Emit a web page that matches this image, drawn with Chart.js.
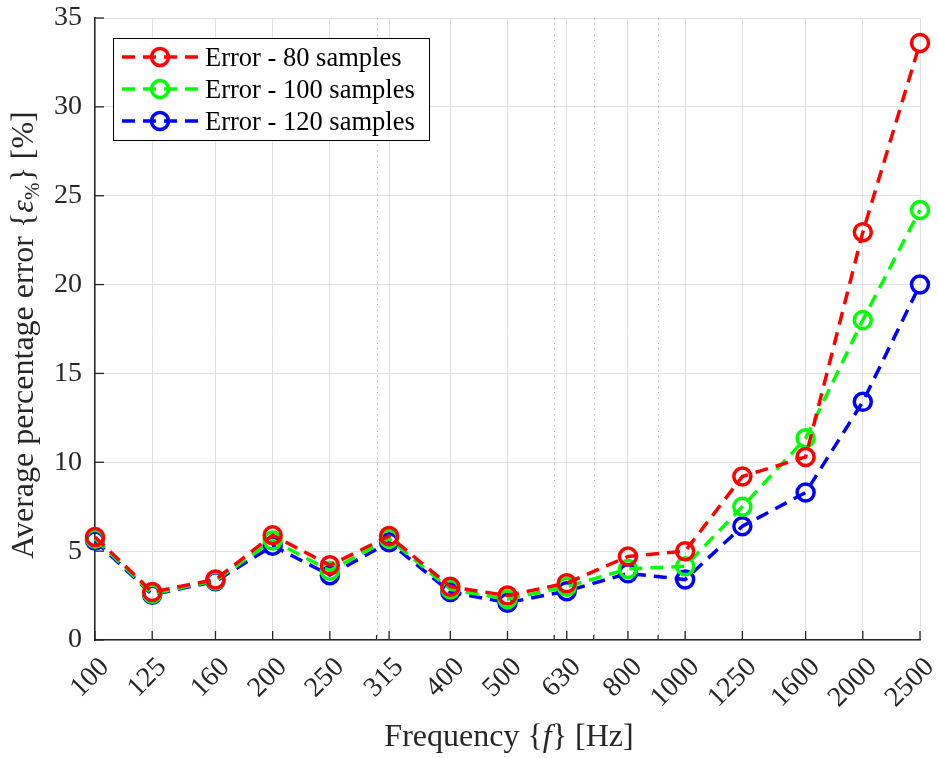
<!DOCTYPE html>
<html>
<head>
<meta charset="utf-8">
<script src="https://cdn.jsdelivr.net/npm/chart.js@4.4.1/dist/chart.umd.min.js"></script>
<style>
  html, body { margin: 0; padding: 0; background: #fff; }
  #wrap { width: 937px; height: 758px; }
</style>
</head>
<body>
<div id="wrap"><canvas id="errChart"></canvas></div>
<script>
const freqs = [100, 125, 160, 200, 250, 315, 400, 500, 630, 800, 1000, 1250, 1600, 2000, 2500];
const minorFreqs = [300, 600, 700, 900];
const yTicks = [0, 5, 10, 15, 20, 25, 30, 35];

const err80  = [5.8, 2.7, 3.4, 5.9, 4.2, 5.85, 3.0, 2.5, 3.2, 4.7, 5.0, 9.2, 10.3, 22.95, 33.6];
const err100 = [5.7, 2.6, 3.35, 5.6, 3.9, 5.7, 2.85, 2.3, 3.0, 4.0, 4.15, 7.5, 11.35, 18.0, 24.2];
const err120 = [5.6, 2.55, 3.3, 5.3, 3.65, 5.5, 2.7, 2.1, 2.75, 3.75, 3.4, 6.4, 8.3, 13.4, 20.0];

const seriesLabels = ['Error - 80 samples', 'Error - 100 samples', 'Error - 120 samples'];
const seriesColors = ['#ff0000', '#00ff00', '#0000ff'];

const FONT = '"Liberation Serif", "DejaVu Serif", serif';
const AXIS_COLOR = '#262626';
const GRID_COLOR = '#e1e1e1';

function toPoints(vals) {
    return freqs.map((f, i) => ({ x: f, y: vals[i] }));
}

// inside tick marks, dotted minor grid, slanted x labels, axis titles and legend box
const decorations = {
    id: 'decorations',
    beforeDatasetsDraw(chart) {
        const ctx = chart.ctx;
        const xs = chart.scales.x, ys = chart.scales.y;
        const area = chart.chartArea;
        ctx.save();
        ctx.strokeStyle = '#bdbdbd';
        ctx.lineWidth = 1;
        ctx.setLineDash([1.5, 4]);
        minorFreqs.forEach(f => {
            const px = Math.round(xs.getPixelForValue(f)) + 0.5;
            ctx.beginPath();
            ctx.moveTo(px, area.top);
            ctx.lineTo(px, area.bottom);
            ctx.stroke();
        });
        ctx.setLineDash([]);
        ctx.strokeStyle = AXIS_COLOR;
        ctx.lineWidth = 1.3;
        freqs.forEach(f => {
            const px = xs.getPixelForValue(f);
            ctx.beginPath();
            ctx.moveTo(px, area.bottom);
            ctx.lineTo(px, area.bottom - 9);
            ctx.stroke();
        });
        minorFreqs.forEach(f => {
            const px = xs.getPixelForValue(f);
            ctx.beginPath();
            ctx.moveTo(px, area.bottom);
            ctx.lineTo(px, area.bottom - 5);
            ctx.stroke();
        });
        yTicks.forEach(v => {
            const py = ys.getPixelForValue(v);
            ctx.beginPath();
            ctx.moveTo(area.left, py);
            ctx.lineTo(area.left + 9, py);
            ctx.stroke();
        });
        ctx.restore();
    },
    afterDraw(chart) {
        const ctx = chart.ctx;
        const xs = chart.scales.x;
        const area = chart.chartArea;
        ctx.save();
        ctx.fillStyle = AXIS_COLOR;

        // frequency labels at 45 degrees
        ctx.font = '28px ' + FONT;
        ctx.textAlign = 'right';
        ctx.textBaseline = 'middle';
        freqs.forEach(f => {
            const px = xs.getPixelForValue(f);
            ctx.save();
            ctx.translate(px + 10, area.bottom + 23);
            ctx.rotate(-Math.PI / 4);
            ctx.fillText(String(f), 0, 0);
            ctx.restore();
        });

        ctx.textBaseline = 'alphabetic';
        // x axis title: Frequency {f} [Hz]
        const xParts = [
            { t: 'Frequency {', f: '32px ' + FONT },
            { t: 'f', f: 'italic 32px ' + FONT },
            { t: '} [Hz]', f: '32px ' + FONT }
        ];
        drawParts(ctx, xParts, 509, 746);

        // y axis title, rotated
        ctx.save();
        ctx.translate(33, 335);
        ctx.rotate(-Math.PI / 2);
        const yParts = [
            { t: 'Average percentage error {', f: '32px ' + FONT },
            { t: 'ε', f: 'italic 32px ' + FONT },
            { t: '%', f: '21px ' + FONT, dy: 6 },
            { t: '} [%]', f: '32px ' + FONT }
        ];
        drawParts(ctx, yParts, 0, 0);
        ctx.restore();

        // legend
        const lx = 113, ly = 38, lw = 316, lh = 102;
        ctx.fillStyle = '#fff';
        ctx.fillRect(lx, ly, lw, lh);
        ctx.strokeStyle = '#000';
        ctx.lineWidth = 1;
        ctx.strokeRect(lx + 0.5, ly + 0.5, lw, lh);
        chart.data.datasets.forEach((ds, i) => {
            const cy = ly + 19 + i * 32;
            ctx.strokeStyle = ds.borderColor;
            ctx.lineWidth = ds.borderWidth;
            ctx.setLineDash(ds.borderDash);
            ctx.beginPath();
            ctx.moveTo(122, cy);
            ctx.lineTo(199, cy);
            ctx.stroke();
            ctx.setLineDash([]);
            ctx.beginPath();
            ctx.arc(160, cy, ds.pointRadius, 0, Math.PI * 2);
            ctx.stroke();
            ctx.fillStyle = '#000';
            ctx.font = '26.5px ' + FONT;
            ctx.textAlign = 'left';
            ctx.fillText(ds.label, 205, cy + 9);
        });
        ctx.restore();
    }
};

function drawParts(ctx, parts, cx, baseline) {
    let total = 0;
    parts.forEach(p => { ctx.font = p.f; p.w = ctx.measureText(p.t).width; total += p.w; });
    let x = cx - total / 2;
    ctx.textAlign = 'left';
    parts.forEach(p => {
        ctx.font = p.f;
        ctx.fillText(p.t, x, baseline + (p.dy || 0));
        x += p.w;
    });
}

const datasets = [err80, err100, err120].map((vals, i) => ({
    label: seriesLabels[i],
    data: toPoints(vals),
    borderColor: seriesColors[i],
    backgroundColor: 'rgba(0,0,0,0)',
    borderWidth: 3.5,
    borderDash: [13, 8],
    pointRadius: 8.5,
    pointHoverRadius: 8.5,
    pointBorderWidth: 3.5,
    pointBackgroundColor: 'rgba(0,0,0,0)',
    pointBorderColor: seriesColors[i],
    tension: 0,
    clip: false
}));

new Chart(document.getElementById('errChart'), {
    type: 'line',
    data: { datasets: datasets },
    options: {
        responsive: true,
        maintainAspectRatio: false,
        animation: false,
        layout: { padding: { left: 0, right: 17, top: 18, bottom: 0 } },
        plugins: { legend: { display: false }, tooltip: { enabled: false } },
        scales: {
            x: {
                type: 'logarithmic',
                min: 100,
                max: 2500,
                afterBuildTicks: scale => { scale.ticks = freqs.map(v => ({ value: v })); },
                afterFit: scale => {
                    scale.height = 118;
                    scale.paddingLeft = 0;
                    scale.paddingRight = 0;
                },
                ticks: { display: false, autoSkip: false },
                grid: { color: GRID_COLOR, drawTicks: false, lineWidth: 1 },
                border: { color: AXIS_COLOR, width: 1.5 }
            },
            y: {
                type: 'linear',
                min: 0,
                max: 35,
                afterBuildTicks: scale => { scale.ticks = yTicks.map(v => ({ value: v })); },
                afterFit: scale => {
                    scale.width = 95;
                    scale.paddingTop = 0;
                    scale.paddingBottom = 0;
                },
                ticks: {
                    padding: 13,
                    color: AXIS_COLOR,
                    font: { family: FONT, size: 28 }
                },
                grid: { color: GRID_COLOR, drawTicks: false, lineWidth: 1 },
                border: { color: AXIS_COLOR, width: 1.5 }
            }
        }
    },
    plugins: [decorations]
});
</script>
</body>
</html>
